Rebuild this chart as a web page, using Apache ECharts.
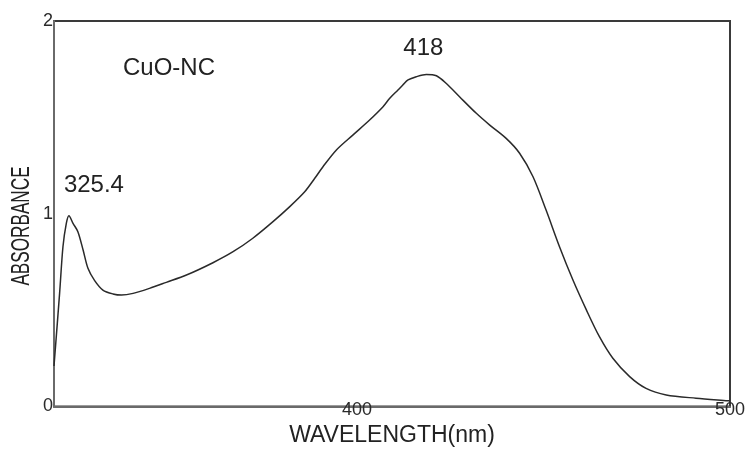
<!DOCTYPE html>
<html>
<head>
<meta charset="utf-8">
<script src="https://cdn.jsdelivr.net/npm/echarts@6/dist/echarts.min.js"></script>
<style>
html,body{margin:0;padding:0;background:#fff;}
#chart{width:750px;height:449px;}
</style>
</head>
<body>
<div id="chart"></div>
<script>
// Wavelength (nm) and absorbance
const wavelength = [318.8, 320.3, 321.2, 322.1, 322.8, 323.9, 325.2, 326.6, 327.9, 329.7, 331.9, 334.6, 336.9, 340.0, 344.4, 348.9, 354.3, 361.4, 366.8, 372.1, 377.5, 382.0, 386.0, 388.7, 390.9, 394.5, 398.9, 403.4, 407.0, 408.8, 411.0, 412.3, 413.7, 415.9, 418.6, 421.3, 423.9, 427.5, 432.0, 435.6, 440.0, 443.6, 447.2, 450.7, 454.3, 457.9, 461.5, 465.0, 468.6, 473.1, 477.5, 482.9, 490.9, 499.4, 500];
const absorbance = [0.21, 0.587, 0.829, 0.95, 0.99, 0.95, 0.907, 0.812, 0.717, 0.653, 0.604, 0.584, 0.578, 0.587, 0.613, 0.644, 0.682, 0.746, 0.803, 0.873, 0.959, 1.037, 1.114, 1.184, 1.244, 1.331, 1.408, 1.486, 1.555, 1.599, 1.642, 1.668, 1.694, 1.711, 1.723, 1.716, 1.677, 1.607, 1.521, 1.46, 1.391, 1.314, 1.192, 1.019, 0.829, 0.656, 0.501, 0.362, 0.25, 0.155, 0.094, 0.06, 0.043, 0.03, 0.029];
const xTickValues = [400, 500];
const yTickValues = [0, 1, 2];
const peakLabels = ['325.4', '418'];
const firstPeakIndex = 4;
const sampleName = 'CuO-NC';
const xTitle = 'WAVELENGTH(nm)';
const yTitle = 'ABSORBANCE';

const seriesData = wavelength.map((w, i) => [w, absorbance[i]]);
const FONT = '"Liberation Sans", Arial, Helvetica, sans-serif';
const TXT = '#222';

const chart = echarts.init(document.getElementById('chart'), null, {renderer: 'canvas'});
chart.setOption({
  animation: false,
  backgroundColor: '#ffffff',
  grid: {
    left: 54, top: 21, width: 676, height: 385.5,
    containLabel: false, outerBoundsMode: 'none',
    show: true, borderColor: '#3a3a3a', borderWidth: 2, backgroundColor: 'transparent'
  },
  xAxis: {
    type: 'value', min: 318.8, max: 500,
    name: xTitle, nameLocation: 'middle', nameGap: 17,
    nameTextStyle: {fontFamily: FONT, fontSize: 23, color: TXT},
    axisLine: {show: true, lineStyle: {color: '#6a6a6a', width: 2}},
    axisTick: {show: false},
    splitLine: {show: false},
    axisLabel: {customValues: xTickValues, margin: -5, fontFamily: FONT, fontSize: 18, color: '#2a2a2a', hideOverlap: false}
  },
  yAxis: {
    type: 'value', min: yTickValues[0], max: yTickValues[yTickValues.length - 1], interval: 1,
    axisLine: {show: true, lineStyle: {color: '#6a6a6a', width: 2}},
    axisTick: {show: false},
    splitLine: {show: false},
    axisLabel: {margin: 1, fontFamily: FONT, fontSize: 18, color: '#2a2a2a'}
  },
  series: [{
    type: 'line',
    data: seriesData,
    smooth: 0.3,
    showSymbol: false,
    lineStyle: {color: '#2a2a2a', width: 1.5},
    markPoint: {
      symbol: 'circle', symbolSize: 0,
      data: [
        {coord: seriesData[firstPeakIndex], value: peakLabels[0], label: {offset: [25, -30]}},
        {type: 'max', value: peakLabels[1], label: {offset: [-3, -26]}}
      ],
      label: {show: true, position: 'inside', fontFamily: FONT, fontSize: 24, color: TXT,
        formatter: p => (p.dataIndex === 0 ? peakLabels[0] : peakLabels[1])}
    }
  }],
  graphic: [
    {type: 'text', left: 123, top: 56, style: {text: sampleName, font: '24px ' + FONT, fill: TXT}},
    {type: 'text', x: 21.7, y: 226, rotation: Math.PI / 2, scaleX: 0.66,
     style: {text: yTitle, font: '26px ' + FONT, fill: TXT, align: 'center', verticalAlign: 'middle'}}
  ]
});
</script>
</body>
</html>
